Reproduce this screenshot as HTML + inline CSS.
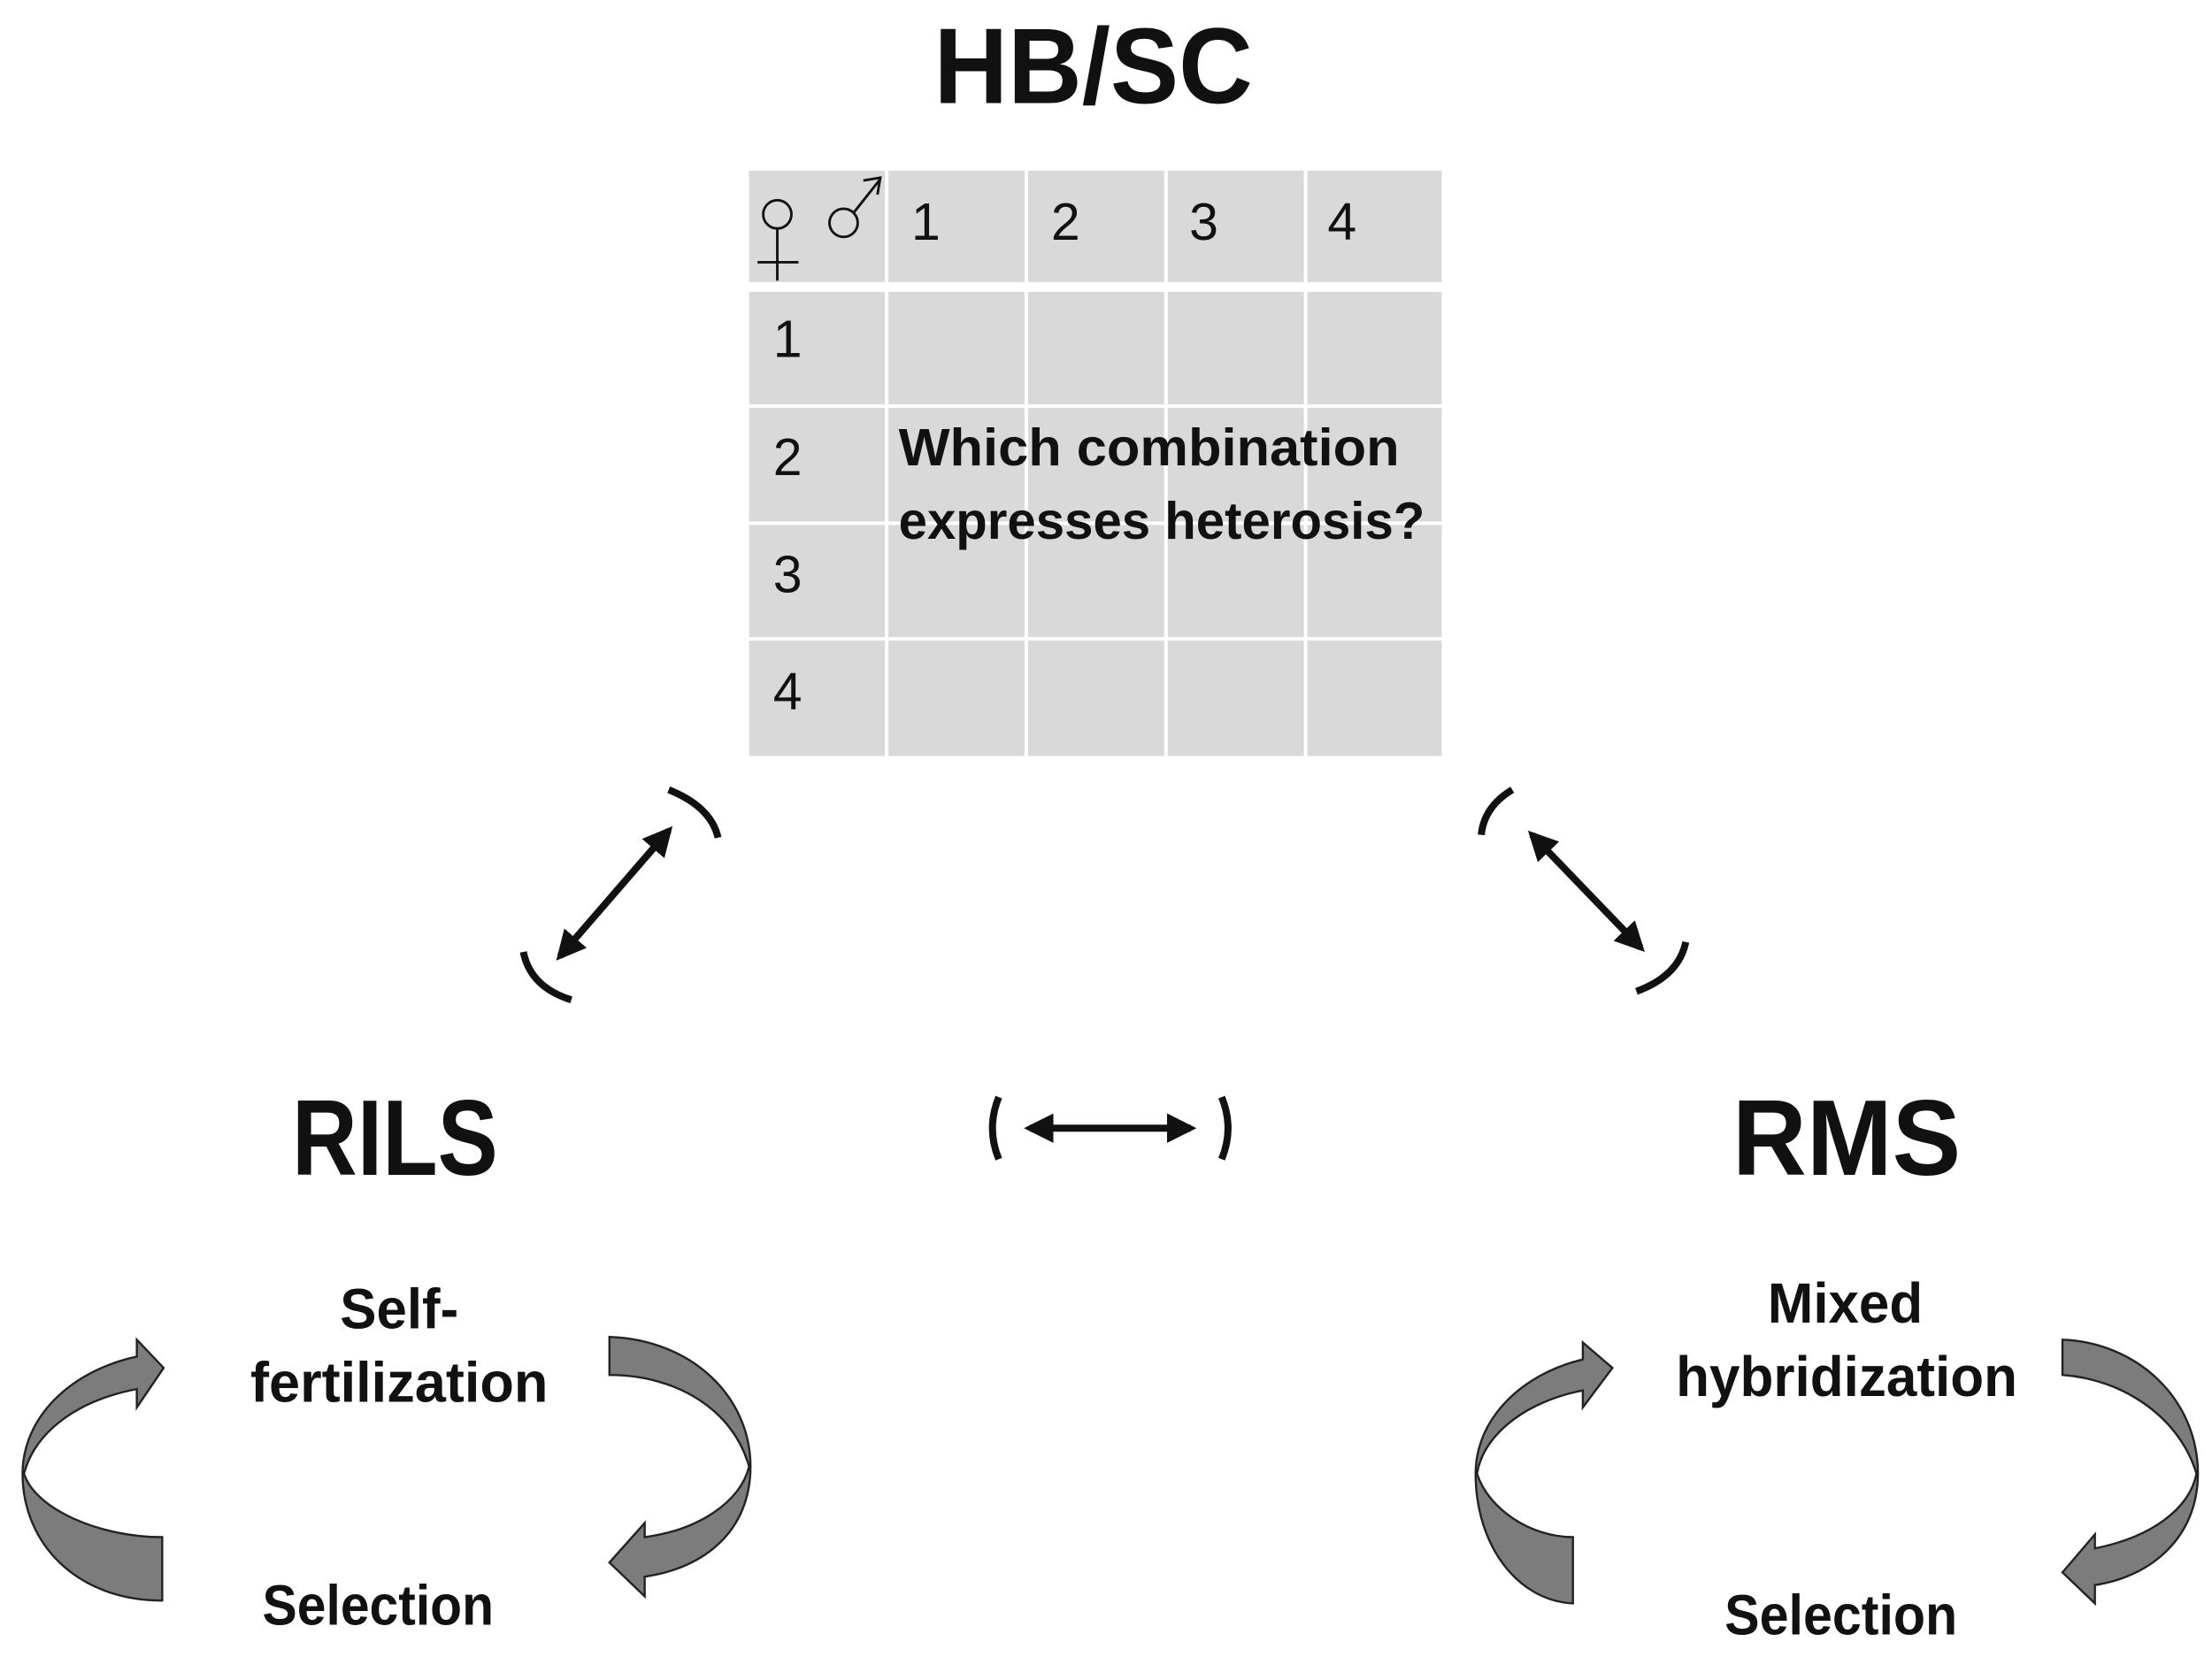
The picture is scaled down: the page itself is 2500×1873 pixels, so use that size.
<!DOCTYPE html>
<html><head><meta charset="utf-8"><style>
html,body{margin:0;padding:0;background:#fff;width:2500px;height:1873px;overflow:hidden}
svg{display:block}
text{font-family:"Liberation Sans",sans-serif;fill:#111}
</style></head><body>
<svg width="2500" height="1873" viewBox="0 0 1568 1175" preserveAspectRatio="none" xmlns="http://www.w3.org/2000/svg">
<defs>
<marker id="ah" viewBox="0 0 10 10" refX="8" refY="5" markerWidth="4.2" markerHeight="4.2" orient="auto-start-reverse">
<path d="M0,0 L10,5 L0,10 Z" fill="#111"/></marker>
</defs>
<text x="775" y="73" font-size="76" font-weight="bold" text-anchor="middle" textLength="226" lengthAdjust="spacingAndGlyphs">HB/SC</text>
<rect x="531" y="121" width="491" height="79" fill="#d9d9d9"/>
<rect x="531" y="207" width="491" height="329" fill="#d9d9d9"/>
<g stroke="#fff" stroke-width="2.5">
<line x1="628.5" y1="121" x2="628.5" y2="536"/>
<line x1="727.5" y1="121" x2="727.5" y2="536"/>
<line x1="826.5" y1="121" x2="826.5" y2="536"/>
<line x1="925.5" y1="121" x2="925.5" y2="536"/>
<line x1="531" y1="288" x2="1022" y2="288"/>
<line x1="531" y1="371" x2="1022" y2="371"/>
<line x1="531" y1="453" x2="1022" y2="453"/>
</g>
<g font-size="37">
<text x="646" y="170">1</text><text x="745" y="170">2</text><text x="843" y="170">3</text><text x="941" y="170">4</text>
<text x="548" y="253">1</text><text x="548" y="337">2</text><text x="548" y="420">3</text><text x="548" y="503">4</text>
</g>
<g stroke="#111" stroke-width="1.8" fill="none">
<circle cx="551" cy="152" r="10"/><line x1="551" y1="162" x2="551" y2="199"/><line x1="537" y1="186" x2="566" y2="186"/>
<circle cx="598" cy="158" r="10"/><line x1="605" y1="151" x2="624" y2="127"/>
<path d="M612,128 L624,126 L622,138"/>
</g>
<text x="637" y="330" font-size="37" font-weight="bold" textLength="355" lengthAdjust="spacingAndGlyphs">Which combination</text>
<text x="637" y="382" font-size="37" font-weight="bold" textLength="373" lengthAdjust="spacingAndGlyphs">expresses heterosis?</text>
<text x="280" y="833" font-size="76" font-weight="bold" text-anchor="middle" textLength="146" lengthAdjust="spacingAndGlyphs">RILS</text>
<text x="1309" y="833" font-size="76" font-weight="bold" text-anchor="middle" textLength="162" lengthAdjust="spacingAndGlyphs">RMS</text>
<g font-size="40" font-weight="bold" text-anchor="middle">
<text x="283" y="942" textLength="84" lengthAdjust="spacingAndGlyphs">Self-</text>
<text x="283" y="994" textLength="211" lengthAdjust="spacingAndGlyphs">fertilization</text>
<text x="268" y="1152" textLength="164" lengthAdjust="spacingAndGlyphs">Selection</text>
<text x="1308" y="938" textLength="110" lengthAdjust="spacingAndGlyphs">Mixed</text>
<text x="1309" y="990" textLength="242" lengthAdjust="spacingAndGlyphs">hybridization</text>
<text x="1305" y="1159" textLength="165" lengthAdjust="spacingAndGlyphs">Selection</text>
</g>
<g stroke="#111" stroke-width="5" fill="none">
<line x1="397" y1="678" x2="474" y2="589" marker-start="url(#ah)" marker-end="url(#ah)"/>
<path d="M474,560 Q504,572 509,594"/>
<path d="M371,675 Q376,700 405,709"/>
<line x1="1086" y1="592" x2="1163" y2="672" marker-start="url(#ah)" marker-end="url(#ah)"/>
<path d="M1072,560 Q1052,572 1050,592"/>
<path d="M1160,703 Q1190,692 1195,668"/>
<line x1="730" y1="800" x2="844" y2="800" marker-start="url(#ah)" marker-end="url(#ah)"/>
<path d="M708,778 Q699,800 708,822"/>
<path d="M866,778 Q875,800 866,822"/>
</g>
<g stroke="#222" stroke-width="1.5" fill="#7c7c7c">
<path d="M115,1135 C55,1135 16,1095 16,1045 C16,1005 50,972 97,962 L97,950 L116,970 L97,998 L97,985 C55,993 25,1015 17,1045 C25,1070 70,1090 115,1090 Z"/>
<path d="M432,948 C490,950 532,990 532,1040 C532,1085 500,1112 457,1118 L457,1132 L432,1108 L457,1080 L457,1090 C495,1085 525,1065 531,1040 C520,1000 480,975 432,975 Z"/>
<path d="M1115,1137 C1075,1135 1046,1095 1046,1045 C1046,1005 1080,974 1122,964 L1122,952 L1143,970 L1122,998 L1122,986 C1085,993 1052,1015 1047,1045 C1055,1070 1085,1090 1115,1090 Z"/>
<path d="M1462,950 C1515,952 1558,992 1558,1045 C1558,1090 1525,1118 1485,1124 L1485,1137 L1462,1115 L1485,1088 L1485,1098 C1525,1090 1552,1070 1557,1045 C1545,1005 1505,978 1462,975 Z"/>
</g>
</svg>
</body></html>
